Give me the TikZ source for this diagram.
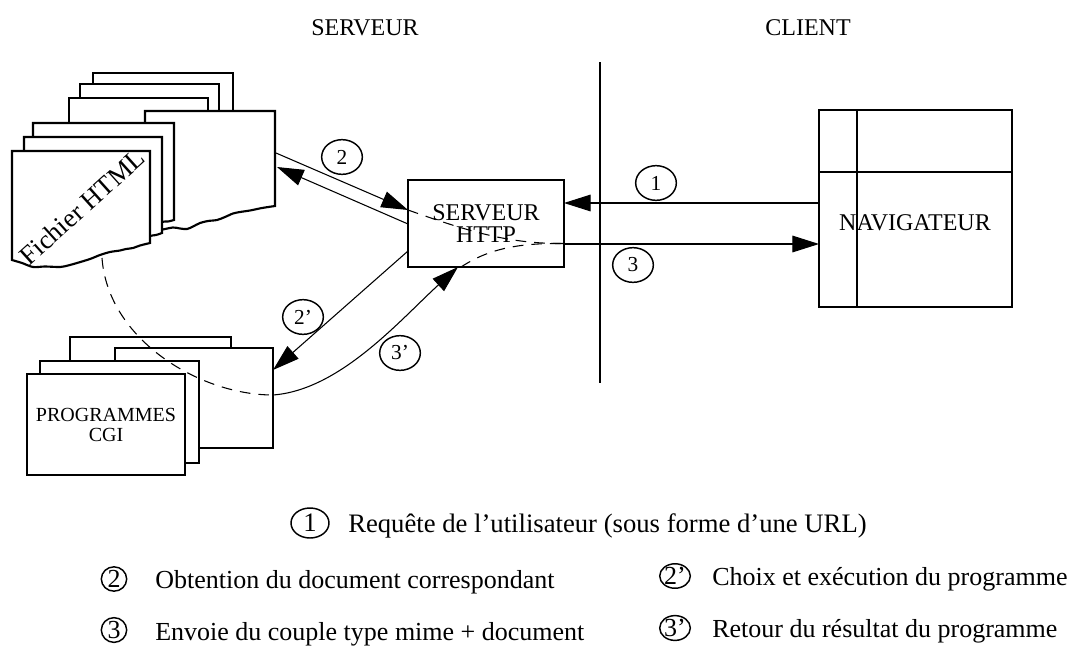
\documentclass[tikz,border=0pt]{standalone}
\usepackage{fontspec}
\setmainfont{Liberation Serif}
\usetikzlibrary{shapes.geometric,arrows.meta}
\begin{document}
\begin{tikzpicture}[x=0.75pt,y=-0.75pt,
  page/.style={draw=black,line width=1.6pt,fill=white,line join=miter},
  box/.style={draw=black,line width=1.6pt,fill=white,inner sep=0pt,outer sep=0pt},
  conn/.style={line width=0.8pt},
  arr/.style={conn,-{Triangle[length=20pt,width=12.5pt]}},
  hid/.style={line width=0.8pt,dash pattern=on 8pt off 6pt},
  lab/.style={ellipse,draw,line width=1.1pt,inner sep=0pt,minimum width=30.5pt,minimum height=26pt,font=\fontsize{16}{16}\selectfont},
  leg/.style={ellipse,draw,line width=1.1pt,inner sep=0pt,minimum width=19pt,minimum height=17.5pt,font=\fontsize{19.5}{20}\selectfont},
  legtxt/.style={anchor=base west,inner sep=0pt,font=\fontsize{19.5}{20}\selectfont},
  title/.style={inner sep=0pt,font=\fontsize{18}{18}\selectfont},
]
\useasboundingbox (0,0) rectangle (1080,646);

% titles
\node[title] (tserv) at (365,28) {SERVEUR};
\node[title] (tcli) at (808,28) {CLIENT};

% separator
\coordinate (sepT) at (600,62);
\coordinate (sepB) at (600,383);
\draw[line width=1.5pt] (sepT) -- (sepB);

% Fichier HTML stack
\draw[page] (93,73) rectangle (233,200);
\draw[page] (80,84) rectangle (219,205);
\draw[page] (69,98) rectangle (208,210);
\draw[page] (145,111) -- (275,111) -- (275,206) -- plot[smooth] coordinates {(275,206) (262,208) (250,210.5) (240,212) (233,213.5) (225,217) (217,220) (208,221) (200,223) (193,226.5) (187,229) (180,228.5) (173,227.5) (160,230) (145,232)} -- cycle;
\draw[page] (33,123) -- (174,123) -- (174,220) -- plot[smooth] coordinates {(174,220) (168,221.5) (162,222) (140,228) (110,236) (80,242) (50,246) (33,246)} -- cycle;
\draw[page] (24,137) -- (162,137) -- (162,233) -- plot[smooth] coordinates {(162,233) (156,235) (150,236) (120,243) (90,250) (60,255) (24,256)} -- cycle;
\draw[page] (12,151) -- (150,151) -- (150,243) -- plot[smooth] coordinates {(150,243) (140,245.5) (133,248) (126,249) (120,250.5) (110,252) (100,255) (90,259) (77,263) (68,265.5) (60,267) (45,266.5) (33,267) (22,263) (12,260)} -- cycle;
\node[rotate=42,inner sep=0pt,font=\fontsize{20}{20}\selectfont] (ftxt) at (82,207) {Fichier HTML};

% Programmes stack
\node[box,minimum width=120.75pt,minimum height=62.25pt] (q1) at (150.5,378.5) {};
\node[box,minimum width=118.5pt,minimum height=75pt] (q2) at (194,398) {};
\node[box,minimum width=119.25pt,minimum height=76.5pt] (q3) at (119.5,412) {};
\node[box,minimum width=118.5pt,minimum height=75.75pt,align=center,font=\fontsize{15}{15}\selectfont] (q4) at (106,424.5) {PROGRAMMES\\CGI};

% Serveur HTTP
\node[box,minimum width=117pt,minimum height=65.25pt,align=center,font=\fontsize{18}{17}\selectfont] (http) at (486,223.5) {SERVEUR\\HTTP};

% Navigateur
\node[box,minimum width=144.75pt,minimum height=147.75pt] (nav) at (915.5,208.5) {};
\draw[line width=1.5pt] (nav.west |- 0,172) -- (nav.east |- 0,172);
\draw[line width=1.5pt] (857,0 |- nav.north) -- (857,0 |- nav.south);
\node[title] (navtxt) at (915,223) {NAVIGATEUR};

% connector end points on the stacks
\coordinate (fA) at (276,153);
\coordinate (fB) at (277,167);
\coordinate (fD) at (102,258);

% arrows 1 and 3
\draw[arr] (nav.west |- 0,203) -- (http.east |- 0,203);
\draw[arr] (http.east |- 0,244) -- (nav.west |- 0,244);

% arrows 2
\draw[arr] (fA) -- (http.west |- 0,210);
\draw[arr] (http.west |- 0,224) -- (fB);

% arrow 2'
\draw[arr] (http.west |- 0,251) -- (q2.east |- 0,370);

% arrow 3'
\draw[arr] (q2.east |- 0,395) .. controls (340,390) and (400,320) .. (http.south -| 458,0);

% hidden paths
\draw[hid] (fD) .. controls (108,340) and (200,395) .. (q2.east |- 0,395);
\draw[hid] (http.south -| 461,0) .. controls (490,248) and (520,243) .. (http.east |- 0,243.5);
\draw[hid] (http.west |- 0,210) .. controls (470,232) and (510,244) .. (http.east |- 0,243.5);

% labels
\node[lab] (c2) at (342,157) {2};
\node[lab] (c1) at (656,183) {1};
\node[lab] (c3) at (633,265) {3};
\node[lab] (c2p) at (303,317) {2’};
\node[lab] (c3p) at (400,353) {3’};

% legend
\node[leg,minimum width=28.5pt,minimum height=22.5pt,font=\fontsize{20}{20}\selectfont] (l1) at (310,523) {1};
\node[legtxt,font=\fontsize{20}{20}\selectfont] (t1) at (348,532) {Requête de l’utilisateur (sous forme d’une URL)};
\node[leg] (l2) at (114,579) {2};
\node[legtxt] (t2) at (155,588) {Obtention du document correspondant};
\node[leg] (l3) at (114,630) {3};
\node[legtxt] (t3) at (155,640) {Envoie du couple type mime + document};
\node[leg,minimum width=20pt] (l2p) at (675,576) {2’};
\node[legtxt] (t2p) at (712,585) {Choix et exécution du programme};
\node[leg,minimum width=20pt] (l3p) at (675,628) {3’};
\node[legtxt] (t3p) at (712,637) {Retour du résultat du programme};
\end{tikzpicture}
\end{document}
